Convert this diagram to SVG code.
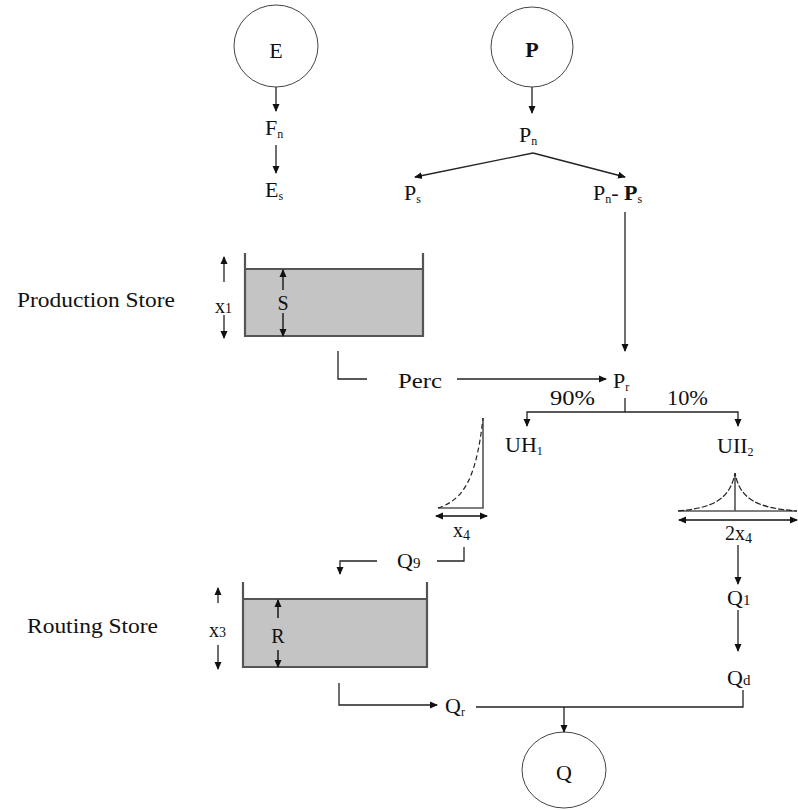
<svg xmlns="http://www.w3.org/2000/svg" width="798" height="810" viewBox="0 0 798 810">
<defs>
<marker id="ah" markerWidth="8" markerHeight="8" refX="7" refY="4" orient="auto-start-reverse" markerUnits="userSpaceOnUse">
<path d="M0,0.5 L8,4 L0,7.5 Z" fill="#111"/>
</marker>
</defs>
<style>
text{font-family:'Liberation Serif','DejaVu Serif',serif;font-size:22px;fill:#111}
.sub{font-size:12px}
.sm{font-size:20px}
.line{fill:none;stroke:#222;stroke-width:1.3}
.arr{fill:none;stroke:#222;stroke-width:1.3;marker-end:url(#ah)}
.dbl{fill:none;stroke:#111;stroke-width:1.5;marker-end:url(#ah);marker-start:url(#ah)}
.circ{fill:#fff;stroke:#444;stroke-width:1}
.wall{fill:none;stroke:#555;stroke-width:2.2}
.water{fill:#c4c4c4;stroke:#555;stroke-width:2}
.thin{fill:none;stroke:#555;stroke-width:1.6}
.dash{fill:none;stroke:#222;stroke-width:1.2;stroke-dasharray:5,3}
</style>

<g id="node-E">
<ellipse class="circ" cx="276" cy="46" rx="42" ry="41"/>
<text x="276" y="58" text-anchor="middle" font-size="24">E</text>
</g>
<g id="node-P">
<ellipse class="circ" cx="532" cy="47" rx="41" ry="40"/>
<text x="532" y="57" text-anchor="middle" font-weight="bold" font-size="24">P</text>
</g>
<g id="node-En"><text x="265" y="135">F<tspan class="sub" dy="3">n</tspan></text></g>
<g id="node-Es"><text x="265" y="197">E<tspan class="sub" dy="3">s</tspan></text></g>
<g id="node-Pn"><text x="519" y="142">P<tspan class="sub" dy="3">n</tspan></text></g>
<g id="node-Ps"><text x="404" y="200">P<tspan class="sub" dy="3">s</tspan></text></g>
<g id="node-PnPs"><text x="593" y="200">P<tspan class="sub" dy="3">n</tspan><tspan dy="-3">- </tspan><tspan font-weight="bold">P</tspan><tspan class="sub" dy="3">s</tspan></text></g>

<g id="node-production-store">
<text x="17" y="307" textLength="158" lengthAdjust="spacingAndGlyphs">Production Store</text>
<rect class="water" x="245" y="269" width="178" height="67"/>
<path class="wall" d="M245,253 V336 H423 V253"/>
<path class="arr" d="M283,290 V270" style="stroke-width:1.5"/>
<path class="arr" d="M283,313 V336" style="stroke-width:1.5"/>
<text x="283" y="310" text-anchor="middle" class="sm">S</text>
<path class="arr" d="M224,282 V257"/>
<path class="arr" d="M224,315 V338"/>
<text x="215" y="313" class="sm">x<tspan font-size="14">1</tspan></text>
</g>

<g id="node-Perc"><text x="398" y="388" textLength="44" lengthAdjust="spacingAndGlyphs">Perc</text></g>
<g id="node-Pr"><text x="613" y="388">P<tspan class="sub" dy="3">r</tspan></text></g>
<g id="label-90"><text x="550" y="405" textLength="45" lengthAdjust="spacingAndGlyphs">90%</text></g>
<g id="label-10"><text x="667" y="405" textLength="41" lengthAdjust="spacingAndGlyphs">10%</text></g>
<g id="node-UH1"><text x="505" y="452">UH<tspan class="sub" dy="3">1</tspan></text></g>
<g id="node-UH2"><text x="717" y="453">UII<tspan class="sub" dy="3">2</tspan></text></g>

<g id="node-UH1-shape">
<path class="thin" d="M483,418 V508 H438"/>
<path class="dash" d="M438,508 C462,500 476,482 483,418"/>
<path class="dbl" d="M436,516 H487"/>
<text x="453" y="537" class="sm">x<tspan font-size="14" dy="3">4</tspan></text>
</g>

<g id="node-UH2-shape">
<path class="thin" d="M678,511 H797 M735,473 V511"/>
<path class="dash" d="M678,511 C712,508 730,500 735,473 C740,500 758,508 797,511" style="stroke-dasharray:6,2"/>
<path class="dbl" d="M679,520 H797"/>
<text x="725" y="540" class="sm">2x<tspan font-size="14" dy="3">4</tspan></text>
</g>

<g id="node-Q9"><text x="397" y="568">Q<tspan font-size="15">9</tspan></text></g>
<g id="node-Q1"><text x="727" y="605">Q<tspan font-size="15">1</tspan></text></g>
<g id="node-Qd"><text x="727" y="685">Q<tspan font-size="15">d</tspan></text></g>
<g id="node-Qr"><text x="445" y="713">Q<tspan class="sub" dy="3">r</tspan></text></g>

<g id="node-routing-store">
<text x="27" y="633" textLength="131" lengthAdjust="spacingAndGlyphs">Routing Store</text>
<rect class="water" x="243" y="599" width="184" height="68"/>
<path class="wall" d="M243,582 V667 H427 V582"/>
<path class="arr" d="M278,618 V600" style="stroke-width:1.6"/>
<path class="arr" d="M278,650 V667" style="stroke-width:1.6"/>
<text x="278" y="643" text-anchor="middle" class="sm">R</text>
<path class="arr" d="M218,603 V588"/>
<path class="arr" d="M218,645 V669"/>
<text x="209" y="637" class="sm">x<tspan font-size="14">3</tspan></text>
</g>

<g id="node-Q">
<ellipse class="circ" cx="564" cy="770" rx="42" ry="38"/>
<text x="564" y="780" text-anchor="middle" font-size="24">Q</text>
</g>

<g id="connectors">
<path class="arr" d="M276,87 V111"/>
<path class="arr" d="M276,145 V173"/>
<path class="arr" d="M532,87 V113"/>
<path class="arr" d="M533,153 L415,177"/>
<path class="arr" d="M533,153 L625,177"/>
<path class="arr" d="M625,212 V351"/>
<path class="line" d="M338,351 V379 H367"/>
<path class="arr" d="M457,379 H606"/>
<path class="line" d="M625,398 V412"/>
<path class="arr" d="M625,412 H527 V426"/>
<path class="arr" d="M625,412 H738 V426"/>
<path class="line" d="M464,547 V561 H437"/>
<path class="arr" d="M377,561 H340 V574"/>
<path class="arr" d="M738,545 V584"/>
<path class="arr" d="M738,610 V651"/>
<path class="arr" d="M339,683 V705 H437"/>
<path class="line" d="M476,707 H743 V690"/>
<path class="arr" d="M564,707 V732"/>
</g>
</svg>
